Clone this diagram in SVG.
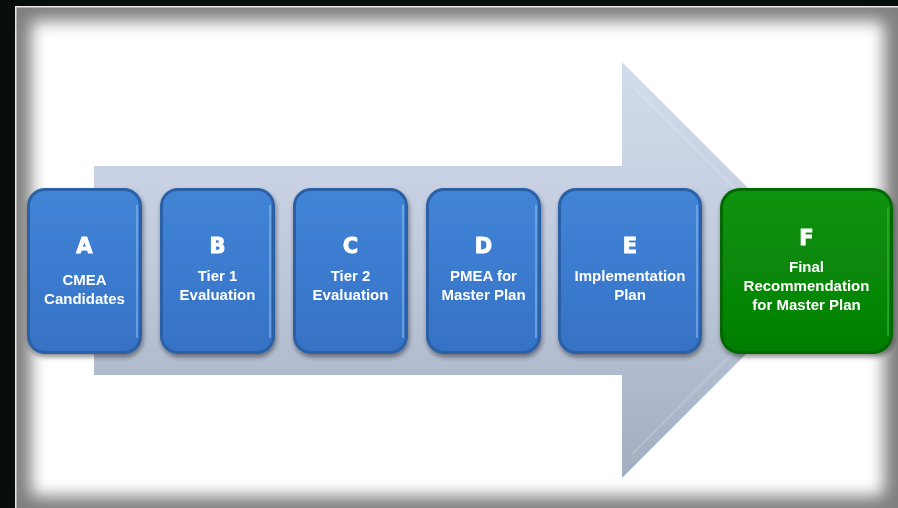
<svg xmlns="http://www.w3.org/2000/svg" width="898" height="508" viewBox="0 0 898 508">
  <defs>
    <filter id="vig" x="-10%" y="-10%" width="120%" height="120%">
      <feGaussianBlur stdDeviation="8"/>
    </filter>
    <filter id="shadow" x="-20%" y="-20%" width="140%" height="140%">
      <feGaussianBlur in="SourceAlpha" stdDeviation="2.5"/>
      <feOffset dx="1" dy="3" result="b"/>
      <feComponentTransfer><feFuncA type="linear" slope="0.45"/></feComponentTransfer>
      <feMerge><feMergeNode/><feMergeNode in="SourceGraphic"/></feMerge>
    </filter>
    <linearGradient id="arrowGrad" x1="0" y1="62" x2="0" y2="478" gradientUnits="userSpaceOnUse">
      <stop offset="0" stop-color="#d3dcec"/>
      <stop offset="0.5" stop-color="#bfc9dc"/>
      <stop offset="1" stop-color="#a3adc0"/>
    </linearGradient>
    <linearGradient id="blueGrad" x1="0" y1="0" x2="0" y2="1">
      <stop offset="0" stop-color="#4284d6"/>
      <stop offset="0.5" stop-color="#3b7bcf"/>
      <stop offset="1" stop-color="#3672c4"/>
    </linearGradient>
    <linearGradient id="greenGrad" x1="0" y1="0" x2="0" y2="1">
      <stop offset="0" stop-color="#0a930a"/>
      <stop offset="0.5" stop-color="#078707"/>
      <stop offset="1" stop-color="#067d06"/>
    </linearGradient>
    <style>
      .rimB { fill: #2b60a8; }
      .faceB { fill: url(#blueGrad); }
      .hiB { fill: none; stroke: #86b8f0; stroke-width: 1.5; opacity: 0.8; }
      .rimG { fill: #056a05; }
      .faceG { fill: url(#greenGrad); }
      .hiG { fill: none; stroke: #3fbf3f; stroke-width: 1.5; opacity: 0.7; }
      .ltr { font-family: "DejaVu Sans", "Liberation Sans", sans-serif; font-weight: bold; font-size: 21px; fill: #ffffff; stroke: #ffffff; stroke-width: 0.9; text-anchor: middle; }
      .lbl { font-family: "Liberation Sans", Arial, sans-serif; font-weight: bold; font-size: 15px; fill: #ffffff; text-anchor: middle; }
    </style>
  </defs>

  <!-- background and frame -->
  <rect x="0" y="0" width="898" height="508" fill="#070d0b"/>
  <rect x="15" y="6" width="883" height="502" fill="#808080"/>
  <rect x="31" y="21" width="853" height="475" rx="6" fill="#ffffff" filter="url(#vig)"/>
  <path d="M15.75,508 V6.75 H898" fill="none" stroke="#e6e6e6" stroke-width="1.5"/>

  <!-- big arrow -->
  <g id="arrow">
    <path d="M94,166 H622 V62 L830,270 L622,478 V375 H94 Z" fill="url(#arrowGrad)"/>
    <path d="M632,86 L816,270 L632,454" fill="none" stroke="#ffffff" stroke-opacity="0.15" stroke-width="2"/>
  </g>

  <g id="connectors"></g>

  <g id="nodeA" filter="url(#shadow)">
    <rect class="rimB" x="27" y="188" width="115" height="166" rx="18"/>
    <rect class="faceB" x="30" y="191" width="109" height="160" rx="15"/>
    <path class="hiB" d="M137,205 V338"/>
    <text class="ltr" x="84.5" y="253">A</text>
    <text class="lbl" x="84.5" y="285">CMEA</text>
    <text class="lbl" x="84.5" y="304">Candidates</text>
  </g>

  <g id="nodeB" filter="url(#shadow)">
    <rect class="rimB" x="160" y="188" width="115" height="166" rx="18"/>
    <rect class="faceB" x="163" y="191" width="109" height="160" rx="15"/>
    <path class="hiB" d="M270,205 V338"/>
    <text class="ltr" x="217.5" y="253">B</text>
    <text class="lbl" x="217.5" y="281">Tier 1</text>
    <text class="lbl" x="217.5" y="300">Evaluation</text>
  </g>

  <g id="nodeC" filter="url(#shadow)">
    <rect class="rimB" x="293" y="188" width="115" height="166" rx="18"/>
    <rect class="faceB" x="296" y="191" width="109" height="160" rx="15"/>
    <path class="hiB" d="M403,205 V338"/>
    <text class="ltr" x="350.5" y="253">C</text>
    <text class="lbl" x="350.5" y="281">Tier 2</text>
    <text class="lbl" x="350.5" y="300">Evaluation</text>
  </g>

  <g id="nodeD" filter="url(#shadow)">
    <rect class="rimB" x="426" y="188" width="115" height="166" rx="18"/>
    <rect class="faceB" x="429" y="191" width="109" height="160" rx="15"/>
    <path class="hiB" d="M536,205 V338"/>
    <text class="ltr" x="483.5" y="253">D</text>
    <text class="lbl" x="483.5" y="281">PMEA for</text>
    <text class="lbl" x="483.5" y="300">Master Plan</text>
  </g>

  <g id="nodeE" filter="url(#shadow)">
    <rect class="rimB" x="558" y="188" width="144" height="166" rx="18"/>
    <rect class="faceB" x="561" y="191" width="138" height="160" rx="15"/>
    <path class="hiB" d="M697,205 V338"/>
    <text class="ltr" x="630" y="253">E</text>
    <text class="lbl" x="630" y="281">Implementation</text>
    <text class="lbl" x="630" y="300">Plan</text>
  </g>

  <g id="nodeF" filter="url(#shadow)">
    <rect class="rimG" x="720" y="188" width="173" height="166" rx="20"/>
    <rect class="faceG" x="723" y="191" width="167" height="160" rx="17"/>
    <path class="hiG" d="M888,207 V336"/>
    <text class="ltr" x="806.5" y="245">F</text>
    <text class="lbl" x="806.5" y="272">Final</text>
    <text class="lbl" x="806.5" y="291">Recommendation</text>
    <text class="lbl" x="806.5" y="310">for Master Plan</text>
  </g>
</svg>
